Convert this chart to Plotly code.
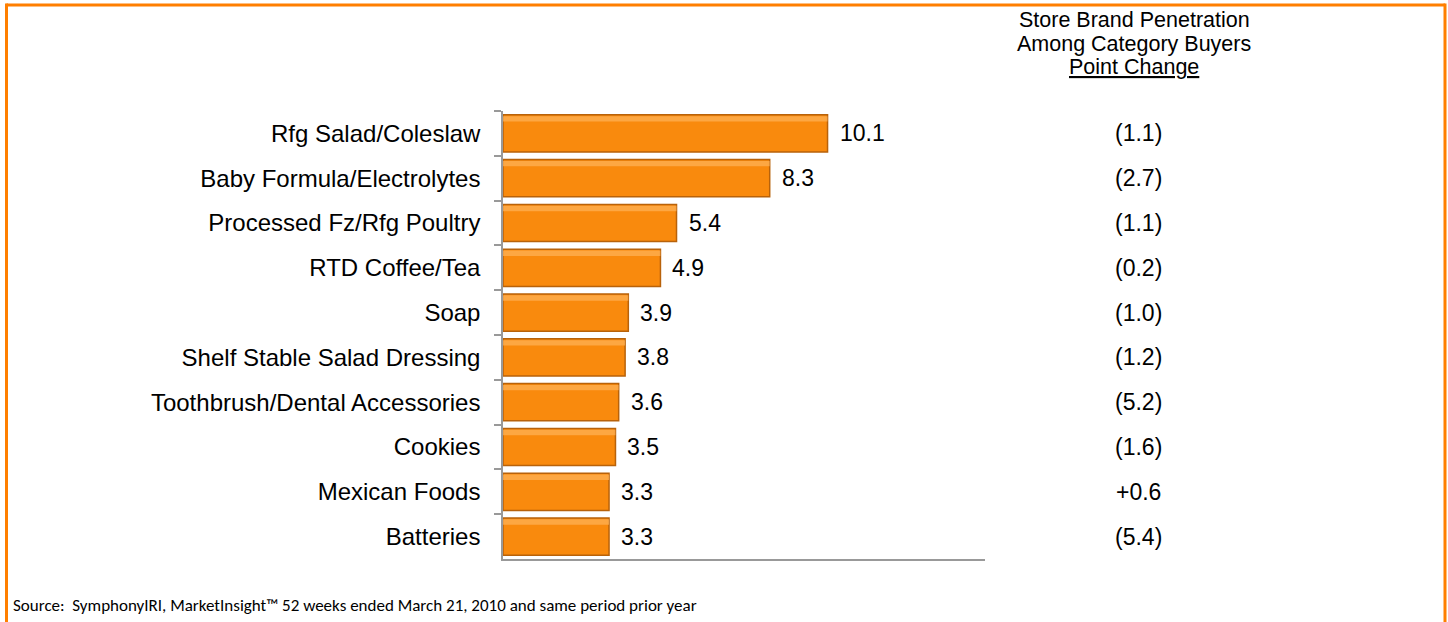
import plotly.graph_objects as go

categories = ["Rfg Salad/Coleslaw", "Baby Formula/Electrolytes", "Processed Fz/Rfg Poultry",
              "RTD Coffee/Tea", "Soap", "Shelf Stable Salad Dressing",
              "Toothbrush/Dental Accessories", "Cookies", "Mexican Foods", "Batteries"]
values = [10.1, 8.3, 5.4, 4.9, 3.9, 3.8, 3.6, 3.5, 3.3, 3.3]
point_change = [-1.1, -2.7, -1.1, -0.2, -1.0, -1.2, -5.2, -1.6, 0.6, -5.4]
header_lines = ["Store Brand Penetration", "Among Category Buyers", "<u>Point Change</u>"]
source_text = "Source:  SymphonyIRI, MarketInsight\u2122 52 weeks ended March 21, 2010 and same period prior year"

W, H = 1448, 622
L, R, T, B = 503, 463, 111, 63
pw, ph = W - L - R, H - T - B

def px_x(px):
    return (px - L) / pw

def px_y(py):
    return (H - B - py) / ph

FONT = "Liberation Sans, Arial, sans-serif"

fig = go.Figure()
fig.add_trace(go.Bar(
    x=values, y=categories, orientation="h",
    marker=dict(color="#F98A0D", line=dict(color="#B8620A", width=1.5)),
    hoverinfo="skip", showlegend=False,
))
# light highlight stripe along the top of each bar
fig.add_trace(go.Bar(
    x=values, y=categories, orientation="h", width=0.12, offset=-0.385,
    marker=dict(color="rgba(255,180,90,0.7)", line=dict(width=0)),
    hoverinfo="skip", showlegend=False,
))

annotations = []
for c, v in zip(categories, values):
    annotations.append(dict(x=v, y=c, xref="x", yref="y", text=f"{v:.1f}",
                            xanchor="left", yanchor="middle", xshift=10, showarrow=False,
                            font=dict(size=23, color="#000", family=FONT)))
for c, p in zip(categories, point_change):
    t = f"({abs(p):.1f})" if p < 0 else f"+{p:.1f}"
    annotations.append(dict(x=px_x(1138), y=c, xref="paper", yref="y", text=t,
                            xanchor="center", yanchor="middle", showarrow=False,
                            font=dict(size=23, color="#000", family=FONT)))
for i, line in enumerate(header_lines):
    annotations.append(dict(x=px_x(1134), y=px_y(20 + 23.5 * i), xref="paper", yref="paper",
                            text=line, xanchor="center", yanchor="middle", showarrow=False,
                            font=dict(size=21.5, color="#000", family=FONT)))
annotations.append(dict(x=px_x(11), y=px_y(605), xref="paper", yref="paper", text=source_text,
                        xanchor="left", yanchor="middle", showarrow=False,
                        font=dict(size=17, color="#000", family="Carlito, Open Sans, sans-serif")))

border = "#FF7F00"
shapes = [
    dict(type="line", xref="paper", yref="paper", x0=px_x(6.5), x1=px_x(1445), y0=px_y(5), y1=px_y(5),
         line=dict(color=border, width=3)),
    dict(type="line", xref="paper", yref="paper", x0=px_x(6.5), x1=px_x(6.5), y0=px_y(3.5), y1=px_y(640),
         line=dict(color=border, width=3)),
    dict(type="line", xref="paper", yref="paper", x0=px_x(1445), x1=px_x(1445), y0=px_y(3.5), y1=px_y(640),
         line=dict(color=border, width=3)),
]

fig.update_layout(
    width=W, height=H, margin=dict(l=L, r=R, t=T, b=B),
    paper_bgcolor="white", plot_bgcolor="white",
    barmode="overlay", bargap=0.17,
    annotations=annotations, shapes=shapes,
    xaxis=dict(range=[0, 15], showgrid=False, zeroline=False, showticklabels=False,
               ticks="", showline=True, linecolor="#999999", linewidth=1.5, fixedrange=True),
    yaxis=dict(autorange="reversed", showgrid=False, zeroline=False, showline=True,
               linecolor="#999999", linewidth=1.5, ticks="outside", tickson="boundaries",
               ticklen=7, tickcolor="#999999", tickwidth=1.5, ticklabelstandoff=16,
               tickfont=dict(size=24, color="#000", family=FONT), fixedrange=True),
)

fig.write_html("out.html", config={"displayModeBar": False})
